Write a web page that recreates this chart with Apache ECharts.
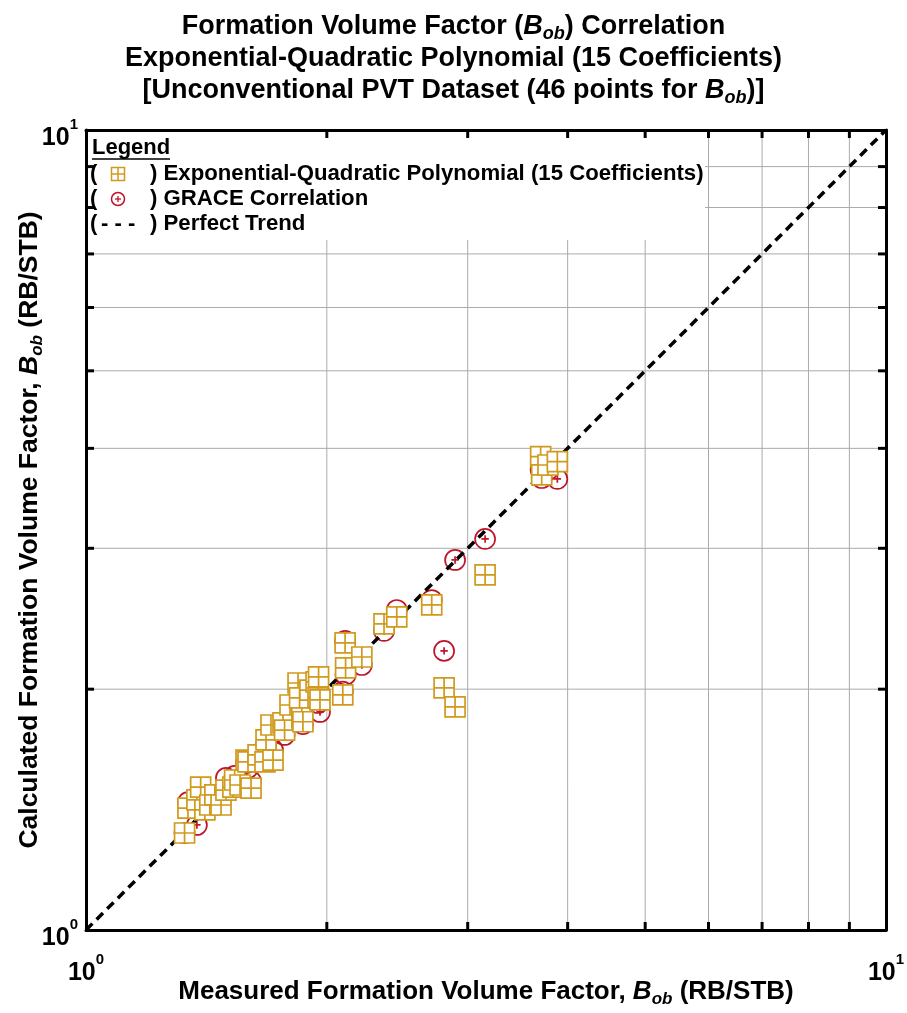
<!DOCTYPE html>
<html>
<head>
<meta charset="utf-8">
<script src="https://cdn.jsdelivr.net/npm/echarts@6/dist/echarts.min.js"></script>
<style>
html, body { margin: 0; padding: 0; background: #fff; }
#chart { width: 907px; height: 1013px; }
</style>
</head>
<body>
<div id="chart"></div>
<script>
// Measured bubble-point oil formation volume factor, Bob (RB/STB)
const measured = [1.328, 1.341, 1.376, 1.391, 1.408, 1.428, 1.449, 1.475, 1.496, 1.526,
  1.534, 1.558, 1.585, 1.594, 1.608, 1.641, 1.674, 1.679, 1.703, 1.713,
  1.763, 1.771, 1.799, 1.841, 1.849, 1.861, 1.867, 1.905, 1.939, 1.950,
  1.953, 1.961, 2.094, 2.108, 2.111, 2.212, 2.358, 2.446, 2.705, 2.803,
  2.893, 3.154, 3.701, 3.712, 3.780, 3.883];
// Bob from the exponential-quadratic polynomial (15 coefficients)
const polyCalc = [1.322, 1.420, 1.454, 1.509, 1.413, 1.433, 1.475, 1.433, 1.496, 1.509,
  1.540, 1.518, 1.631, 1.622, 1.504, 1.655, 1.622, 1.728, 1.804, 1.631,
  1.815, 1.778, 1.911, 2.036, 1.950, 1.841, 1.821, 1.995, 2.042, 1.950,
  2.072, 1.939, 1.967, 2.285, 2.126, 2.194, 2.413, 2.462, 2.549, 2.007,
  1.901, 2.779, 3.905, 3.705, 3.813, 3.849];
// Bob from the GRACE correlation
const graceCalc = [1.322, 1.445, 1.353, 1.496, 1.429, 1.454, 1.467, 1.462, 1.549, 1.518,
  1.558, 1.531, 1.617, 1.594, 1.535, 1.641, 1.669, 1.703, 1.753, 1.679,
  1.789, 1.753, 1.835, 1.939, 1.928, 1.857, 1.809, 1.939, 1.967, 1.922,
  1.995, 1.873, 1.986, 2.298, 2.084, 2.144, 2.365, 2.512, 2.585, 2.233,
  2.901, 3.082, 3.758, 3.673, 3.758, 3.663];
// Perfect-trend (y = x) end points
const trendEnds = [1, 10];
// Decade tick values and their exponents
const decadeTicks = [1, 10];
const decadeExponents = ['0', '1'];
// Intermediate log grid values inside the decade
const minorGrid = [2, 3, 4, 5, 6, 7, 8, 9];

const FONT = '"Liberation Sans", Arial, Helvetica, sans-serif';
const GOLD = '#D09A1C';
const RED = '#C0142C';

const SQUARE_PATH = 'path://M0,0H20V20H0Z M10,0V20 M0,10H20';
const CIRCLE_PATH = 'path://M10,0A10,10,0,1,1,10,20A10,10,0,1,1,10,0Z M10,6.3V13.7 M6.3,10H13.7';

const chart = echarts.init(document.getElementById('chart'), null, { renderer: 'canvas' });

function decadeLabel(v) {
  const i = decadeTicks.indexOf(Math.round(v));
  return '{b|10}{sup|' + (i >= 0 ? decadeExponents[i] : '') + '}';
}

const labelRich = {
  b: { fontFamily: FONT, fontWeight: 'bold', fontSize: 25, color: '#000', lineHeight: 34, verticalAlign: 'bottom' },
  sup: { fontFamily: FONT, fontWeight: 'bold', fontSize: 15, color: '#000', lineHeight: 15, verticalAlign: 'top' }
};
const nameRich = {
  t: { fontFamily: FONT, fontWeight: 'bold', fontSize: 26, color: '#000', lineHeight: 32 },
  bi: { fontFamily: FONT, fontWeight: 'bold', fontStyle: 'italic', fontSize: 26, color: '#000', lineHeight: 32 },
  sub: { fontFamily: FONT, fontWeight: 'bold', fontStyle: 'italic', fontSize: 17, color: '#000', lineHeight: 17, verticalAlign: 'bottom' }
};
const yNameRich = {
  t: Object.assign({}, nameRich.t, { fontSize: 26.5 }),
  bi: Object.assign({}, nameRich.bi, { fontSize: 26.5 }),
  sub: nameRich.sub
};

function logAxis(extra) {
  return Object.assign({
    type: 'log', logBase: 10, min: decadeTicks[0], max: decadeTicks[1],
    axisLine: { show: true, onZero: false, lineStyle: { color: '#000', width: 3 } },
    axisTick: { show: false },
    splitLine: { show: false },
    minorTick: { show: false },
    minorSplitLine: { show: false }
  }, extra);
}

const polyData = measured.map((m, i) => [m, polyCalc[i]]);
const graceData = measured.map((m, i) => [m, graceCalc[i]]);
const gridData = minorGrid.map(v => [v, v]);

const option = {
  animation: false,
  backgroundColor: '#fff',
  title: {
    left: 'center', top: 6,
    text: '{t|Formation Volume Factor (}{bi|B}{sub|ob}{t|) Correlation}\n' +
          '{t|Exponential-Quadratic Polynomial (15 Coefficients)}\n' +
          '{t|[Unconventional PVT Dataset (46 points for }{bi|B}{sub|ob}{t|)]}',
    textStyle: {
      fontFamily: FONT, fontWeight: 'bold', fontSize: 27, color: '#000', lineHeight: 32,
      rich: {
        t: { fontFamily: FONT, fontWeight: 'bold', fontSize: 27, color: '#000', lineHeight: 32 },
        bi: { fontFamily: FONT, fontWeight: 'bold', fontStyle: 'italic', fontSize: 27, color: '#000', lineHeight: 32 },
        sub: { fontFamily: FONT, fontWeight: 'bold', fontStyle: 'italic', fontSize: 18, color: '#000', lineHeight: 18, verticalAlign: 'bottom' }
      }
    }
  },
  grid: { left: 86, top: 130, width: 800, height: 800, containLabel: false, outerBoundsMode: 'none' },
  xAxis: [
    logAxis({
      position: 'bottom',
      name: '{t|Measured Formation Volume Factor, }{bi|B}{sub|ob}{t| (RB/STB)}',
      nameLocation: 'middle', nameGap: 46, nameMoveOverlap: false,
      nameTextStyle: { rich: nameRich },
      axisLabel: { show: true, margin: 22, formatter: decadeLabel, rich: labelRich, showMinLabel: true, showMaxLabel: true }
    }),
    logAxis({ position: 'top', axisLabel: { show: false } })
  ],
  yAxis: [
    logAxis({
      position: 'left',
      name: '{t|Calculated Formation Volume Factor, }{bi|B}{sub|ob}{t| (RB/STB)}',
      nameLocation: 'middle', nameGap: 40, nameMoveOverlap: false,
      nameTextStyle: { rich: yNameRich },
      axisLabel: { show: true, margin: 8, padding: [8, 0, 0, 0], formatter: decadeLabel, rich: labelRich, showMinLabel: true, showMaxLabel: true }
    }),
    logAxis({ position: 'right', axisLabel: { show: false } })
  ],
  graphic: [
    // white panel behind the legend text
    { type: 'rect', z: 3, shape: { x: 88, y: 132, width: 617, height: 108 }, style: { fill: '#fff' } },
    { type: 'text', z: 30, x: 92, y: 148, style: { text: 'Legend', fontFamily: FONT, fontWeight: 'bold', fontSize: 22, fill: '#000', verticalAlign: 'middle' } },
    { type: 'line', z: 30, shape: { x1: 92, y1: 159, x2: 170, y2: 159 }, style: { stroke: '#000', lineWidth: 1.6 } },

    { type: 'text', z: 30, x: 90, y: 174, style: { text: '(', fontFamily: FONT, fontWeight: 'bold', fontSize: 22, fill: '#000', verticalAlign: 'middle' } },
    { type: 'rect', z: 30, shape: { x: 111.5, y: 167.5, width: 13, height: 13 }, style: { fill: '#fff', stroke: GOLD, lineWidth: 1.5 } },
    { type: 'line', z: 30, shape: { x1: 118, y1: 167.5, x2: 118, y2: 180.5 }, style: { stroke: GOLD, lineWidth: 1.5 } },
    { type: 'line', z: 30, shape: { x1: 111.5, y1: 174, x2: 124.5, y2: 174 }, style: { stroke: GOLD, lineWidth: 1.5 } },
    { type: 'text', z: 30, x: 150, y: 174, style: { text: ') Exponential-Quadratic Polynomial (15 Coefficients)', fontFamily: FONT, fontWeight: 'bold', fontSize: 22.2, fill: '#000', verticalAlign: 'middle' } },

    { type: 'text', z: 30, x: 90, y: 199, style: { text: '(', fontFamily: FONT, fontWeight: 'bold', fontSize: 22, fill: '#000', verticalAlign: 'middle' } },
    { type: 'circle', z: 30, shape: { cx: 118, cy: 199, r: 6.5 }, style: { fill: '#fff', stroke: RED, lineWidth: 1.5 } },
    { type: 'line', z: 30, shape: { x1: 118, y1: 196, x2: 118, y2: 202 }, style: { stroke: RED, lineWidth: 1.3 } },
    { type: 'line', z: 30, shape: { x1: 115, y1: 199, x2: 121, y2: 199 }, style: { stroke: RED, lineWidth: 1.3 } },
    { type: 'text', z: 30, x: 150, y: 199, style: { text: ') GRACE Correlation', fontFamily: FONT, fontWeight: 'bold', fontSize: 22.2, fill: '#000', verticalAlign: 'middle' } },

    { type: 'text', z: 30, x: 90, y: 224, style: { text: '(', fontFamily: FONT, fontWeight: 'bold', fontSize: 22, fill: '#000', verticalAlign: 'middle' } },
    { type: 'text', z: 30, x: 101, y: 224, style: { text: '- - -', fontFamily: FONT, fontWeight: 'bold', fontSize: 22, fill: '#000', verticalAlign: 'middle' } },
    { type: 'text', z: 30, x: 150, y: 224, style: { text: ') Perfect Trend', fontFamily: FONT, fontWeight: 'bold', fontSize: 22.2, fill: '#000', verticalAlign: 'middle' } }
  ],
  series: [
    {
      // light log grid lines at 2..9 of the decade
      type: 'custom', z: 1, silent: true,
      data: gridData,
      renderItem: function (params, api) {
        const v = api.value(0);
        const b = api.coord([v, decadeTicks[0]]);
        const t = api.coord([v, decadeTicks[1]]);
        const l = api.coord([decadeTicks[0], v]);
        const r = api.coord([decadeTicks[1], v]);
        const st = { stroke: '#ababab', lineWidth: 1 };
        return { type: 'group', children: [
          { type: 'line', shape: { x1: b[0], y1: b[1], x2: t[0], y2: t[1] }, style: st },
          { type: 'line', shape: { x1: l[0], y1: l[1], x2: r[0], y2: r[1] }, style: st }
        ] };
      }
    },
    {
      name: 'GRACE Correlation',
      type: 'scatter', z: 4,
      data: graceData,
      symbol: CIRCLE_PATH, symbolSize: 20,
      itemStyle: { color: 'rgba(255,255,255,0)', borderColor: RED, borderWidth: 1.7, opacity: 1 }
    },
    {
      name: 'Perfect Trend',
      type: 'line', z: 5,
      data: [[trendEnds[0], trendEnds[0]], [trendEnds[1], trendEnds[1]]],
      symbol: 'none',
      lineStyle: { color: '#000', width: 3.5, type: [9, 6] }
    },
    {
      name: 'Exponential-Quadratic Polynomial (15 Coefficients)',
      type: 'scatter', z: 6,
      data: polyData,
      symbol: SQUARE_PATH, symbolSize: 20,
      itemStyle: { color: '#fff', borderColor: GOLD, borderWidth: 1.7, opacity: 1 }
    },
    {
      // inward tick marks on all four sides
      type: 'custom', z: 20, silent: true,
      data: gridData,
      renderItem: function (params, api) {
        const v = api.value(0);
        const b = api.coord([v, decadeTicks[0]]);
        const t = api.coord([v, decadeTicks[1]]);
        const l = api.coord([decadeTicks[0], v]);
        const r = api.coord([decadeTicks[1], v]);
        const L = 8;
        const st = { stroke: '#000', lineWidth: 3 };
        return { type: 'group', children: [
          { type: 'line', shape: { x1: b[0], y1: b[1], x2: b[0], y2: b[1] - L }, style: st },
          { type: 'line', shape: { x1: t[0], y1: t[1], x2: t[0], y2: t[1] + L }, style: st },
          { type: 'line', shape: { x1: l[0], y1: l[1], x2: l[0] + L, y2: l[1] }, style: st },
          { type: 'line', shape: { x1: r[0], y1: r[1], x2: r[0] - L, y2: r[1] }, style: st }
        ] };
      }
    }
  ]
};

chart.setOption(option);
</script>
</body>
</html>
